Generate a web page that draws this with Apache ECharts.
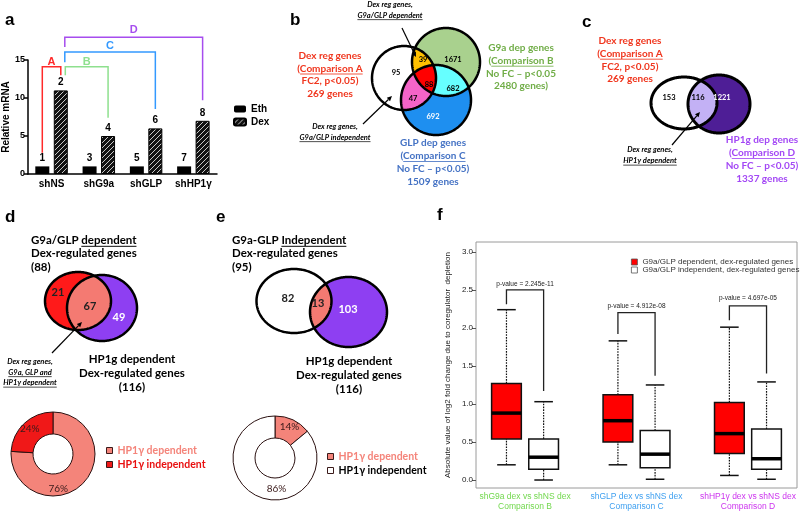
<!DOCTYPE html>
<html><head><meta charset="utf-8">
<script src="https://cdn.jsdelivr.net/npm/echarts@6/dist/echarts.min.js"></script>
<style>html,body{margin:0;padding:0;background:#fff;}#c{width:800px;height:512px;}</style>
</head><body><div id="c"></div>
<script>
// ---------------- data ----------------
const aCategories = ['shNS', 'shG9a', 'shGLP', 'shHP1γ'];
const aEth = [1, 1, 1, 1];
const aDex = [11, 5, 6, 7];
const aEthLabels = ['1', '3', '5', '7'];
const aDexLabels = ['2', '4', '6', '8'];
const aYTicks = [0, 5, 10, 15];
const bRegionCounts = ['95', '39', '1671', '88', '682', '47', '692'];
const cRegionCounts = ['153', '116', '1221'];
const dRegionCounts = ['21', '67', '49'];
const eRegionCounts = ['82', '13', '103'];
const dPieNames = ['HP1γ dependent', 'HP1γ independent'];
const dPieValues = [76, 24];
const ePieNames = ['HP1γ dependent\u200b', 'HP1γ independent\u200b'];
const ePieValues = [14, 86];
const fGroupLine1 = ['shG9a dex vs shNS dex', 'shGLP dex vs shNS dex', 'shHP1γ dex vs shNS dex'];
const fGroupLine2 = ['Comparison B', 'Comparison C', 'Comparison D'];
const fSeriesNames = ['G9a/GLP dependent, dex-regulated genes', 'G9a/GLP independent, dex-regulated genes'];
// [min, Q1, median, Q3, max]
const fDependent = [[0.20, 0.54, 0.88, 1.27, 2.24], [0.20, 0.50, 0.78, 1.12, 1.83], [0.06, 0.35, 0.61, 1.02, 2.01]];
const fIndependent = [[0.00, 0.14, 0.30, 0.54, 1.03], [0.01, 0.16, 0.34, 0.65, 1.25], [0.01, 0.14, 0.28, 0.67, 1.29]];
const fPValues = ['2.245e-11', '4.912e-08', '4.697e-05'];
const fYTicks = [0, 0.5, 1, 1.5, 2, 2.5, 3];

// ---------------- helpers ----------------
const ARIAL = '"Liberation Sans"';
const CAL = 'Lato';
const chart = echarts.init(document.getElementById('c'));

// hatch pattern for Dex bars
const pc = document.createElement('canvas');
pc.width = 5; pc.height = 5;
(function () {
  const g = pc.getContext('2d');
  g.fillStyle = '#111'; g.fillRect(0, 0, 5, 5);
  g.strokeStyle = '#c8c8c8'; g.lineWidth = 1;
  g.beginPath();
  g.moveTo(-1, 6); g.lineTo(6, -1);
  g.moveTo(-1, 1); g.lineTo(1, -1);
  g.moveTo(4, 6); g.lineTo(6, 4);
  g.stroke();
})();

const mctx = document.createElement('canvas').getContext('2d');
function tw(str, font) { mctx.font = font; return mctx.measureText(str).width; }
const G = [];
function T(x, y, str, o) {
  const align = o.align || 'center';
  const font = (o.style || 'normal') + ' ' + (o.weight || 'normal') + ' ' + o.size + 'px ' + (o.family || CAL);
  G.push({ type: 'text', x: x, y: y, z: 30, silent: true,
    style: { text: str, font: font, fill: o.color || '#000', textAlign: align, textVerticalAlign: 'middle', align: align, verticalAlign: 'middle' } });
  if (o.ul) {
    const W = tw(str, font);
    const left = align === 'center' ? x - W / 2 : (align === 'right' ? x - W : x);
    let s = 0, e = str.length;
    if (Array.isArray(o.ul)) { s = o.ul[0]; e = o.ul[1]; }
    const x1 = left + tw(str.slice(0, s), font), x2 = left + tw(str.slice(0, e), font);
    const uy = y + o.size * 0.55;
    G.push({ type: 'line', z: 30, silent: true, shape: { x1: x1, y1: uy, x2: x2, y2: uy },
      style: { stroke: o.color || '#000', lineWidth: Math.max(0.7, o.size / 12) } });
  }
}
function lines(x, y0, dy, arr, o) { arr.forEach((s, i) => T(x, y0 + i * dy, s, Object.assign({}, o, { ul: (o.uls || [])[i] }))); }
function arrow(x1, y1, x2, y2) {
  const ang = Math.atan2(y2 - y1, x2 - x1), L = 5, W = 2.3;
  const bx = x2 - L * Math.cos(ang), by = y2 - L * Math.sin(ang);
  const px = -Math.sin(ang) * W, py = Math.cos(ang) * W;
  G.push({ type: 'line', z: 30, silent: true, shape: { x1: x1, y1: y1, x2: bx, y2: by }, style: { stroke: '#000', lineWidth: 1.2 } });
  G.push({ type: 'polygon', z: 30, silent: true, shape: { points: [[x2, y2], [bx + px, by + py], [bx - px, by - py]] }, style: { fill: '#000' } });
}
function ellPts(e, n) {
  const p = [];
  for (let i = 0; i < n; i++) { const t = 2 * Math.PI * i / n; p.push([e[0] + e[2] * Math.cos(t), e[1] + e[3] * Math.sin(t)]); }
  return p;
}
function inE(p, e) { const dx = (p[0] - e[0]) / e[2], dy = (p[1] - e[1]) / e[3]; return dx * dx + dy * dy <= 1.0005; }
function region(list) {
  let pts = [];
  list.forEach((e, i) => ellPts(e, 720).forEach(p => { if (list.every((o, j) => j === i || inE(p, o))) pts.push(p); }));
  let cx = 0, cy = 0; pts.forEach(p => { cx += p[0]; cy += p[1]; }); cx /= pts.length; cy /= pts.length;
  pts.sort((a, b) => Math.atan2(a[1] - cy, a[0] - cx) - Math.atan2(b[1] - cy, b[0] - cx));
  return pts;
}
let zc = 10;
function fillPoly(points, color) { G.push({ type: 'polygon', z: zc++, silent: true, shape: { points: points }, style: { fill: color } }); }
function outline(e, w) { G.push({ type: 'polygon', z: 25, silent: true, shape: { points: ellPts(e, 240) }, style: { fill: 'none', stroke: '#000', lineWidth: w } }); }

// ---------------- option ----------------
function boxRender(fill) {
  return function (params, api) {
    const x = api.value(0);
    const v = [1, 2, 3, 4, 5].map(k => api.value(k));
    const P = v.map(val => api.coord([x, val]));
    const unit = api.size([1, 0])[0];
    const hw = unit * 0.4, cw = unit * 0.25, cx = P[0][0];
    const dash = { stroke: '#111', lineWidth: 1.2, lineDash: [1.6, 1.2] };
    const solid = { stroke: '#111', lineWidth: 1.5 };
    return { type: 'group', children: [
      { type: 'line', shape: { x1: cx, y1: P[0][1], x2: cx, y2: P[1][1] }, style: dash },
      { type: 'line', shape: { x1: cx, y1: P[3][1], x2: cx, y2: P[4][1] }, style: dash },
      { type: 'line', shape: { x1: cx - cw, y1: P[0][1], x2: cx + cw, y2: P[0][1] }, style: solid },
      { type: 'line', shape: { x1: cx - cw, y1: P[4][1], x2: cx + cw, y2: P[4][1] }, style: solid },
      { type: 'rect', shape: { x: cx - hw, y: P[3][1], width: 2 * hw, height: P[1][1] - P[3][1] }, style: { fill: fill, stroke: '#111', lineWidth: 1.5 } },
      { type: 'line', shape: { x1: cx - hw, y1: P[2][1], x2: cx + hw, y2: P[2][1] }, style: { stroke: '#000', lineWidth: 3.5 } }
    ] };
  };
}
const fRich = {
  g: { color: '#72d84e', fontSize: 8.5, lineHeight: 9.5, fontFamily: ARIAL },
  b: { color: '#3fa0f0', fontSize: 8.5, lineHeight: 9.5, fontFamily: ARIAL },
  m: { color: '#cc33ee', fontSize: 8.5, lineHeight: 9.5, fontFamily: ARIAL }
};
const fKeys = ['g', 'b', 'm'];
const dColors = ['#f4847a', '#f01818'];
const eColors = ['#f4847a', '#ffffff'];
const pieBase = {
  type: 'pie', startAngle: 90, clockwise: true, radius: [20, 42], silent: true, emphasis: { disabled: true },
  itemStyle: { borderColor: '#2a1010', borderWidth: 1 }, labelLine: { show: false },
  label: { show: true, position: 'inside', formatter: '{c}%', fontSize: 10, fontFamily: CAL, color: '#3a1a1a' }
};
const legendPie = { orient: 'vertical', icon: 'rect', itemWidth: 6, itemHeight: 6, itemGap: 3, selectedMode: false,
  itemStyle: { borderColor: '#3a1a1a', borderWidth: 1 }, textStyle: { fontSize: 10.5, fontFamily: CAL, fontWeight: 'bold' } };

const option = {
  animation: false,
  textStyle: { fontFamily: ARIAL },
  grid: [
    { left: 24, top: 60, width: 193, height: 114 },
    { left: 476, top: 242, width: 321, height: 246, show: true, borderColor: '#9a9a9a', borderWidth: 1 }
  ],
  xAxis: [
    { gridIndex: 0, type: 'category', data: aCategories,
      axisLine: { lineStyle: { color: '#000', width: 1.5 } }, axisTick: { show: false },
      axisLabel: { interval: 0, color: '#000', fontWeight: 'bold', fontSize: 10, margin: 5 } },
    { gridIndex: 1, type: 'value', min: 0.18, max: 8.82, axisLine: { show: false }, axisTick: { show: false }, splitLine: { show: false },
      axisLabel: { customValues: [1.5, 4.5, 7.5], margin: 4, rich: fRich,
        formatter: v => { const i = Math.round((v - 1.5) / 3); const k = fKeys[i]; return '{' + k + '|' + fGroupLine1[i] + '}\n{' + k + '|' + fGroupLine2[i] + '}'; } } }
  ],
  yAxis: [
    { gridIndex: 0, type: 'value', min: 0, max: 15, interval: 5, splitLine: { show: false },
      axisLine: { show: true, lineStyle: { color: '#000', width: 1.5 } },
      axisTick: { show: true, length: 4, lineStyle: { color: '#000', width: 1.5 } },
      axisLabel: { color: '#000', fontWeight: 'bold', fontSize: 9, margin: 3 },
      name: 'Relative mRNA', nameLocation: 'middle', nameGap: 14,
      nameTextStyle: { fontWeight: 'bold', fontSize: 10, color: '#000' } },
    { gridIndex: 1, type: 'value', min: -0.105, max: 3.13, splitLine: { show: false }, axisLine: { show: false },
      axisTick: { show: true, customValues: fYTicks, length: 4, lineStyle: { color: '#555' } },
      axisLabel: { customValues: fYTicks, formatter: v => v.toFixed(1), fontSize: 8, color: '#222', margin: 3 },
      name: 'Absolute value of log2 fold change due to coregulator  depletion', nameLocation: 'middle', nameGap: 24,
      nameTextStyle: { fontSize: 8, color: '#222' } }
  ],
  legend: [
    { id: 'la', data: ['Eth', 'Dex'], left: 228, top: 99, orient: 'vertical', itemWidth: 12, itemHeight: 7, itemGap: 3,
      selectedMode: false, textStyle: { fontWeight: 'bold', fontSize: 10, color: '#000', fontFamily: ARIAL } },
    Object.assign({ id: 'ld', left: 101, top: 440,
      data: [{ name: dPieNames[0], textStyle: { color: dColors[0] } }, { name: dPieNames[1], textStyle: { color: '#e81010' } }] }, legendPie),
    Object.assign({ id: 'le', left: 322, top: 446,
      data: [{ name: ePieNames[0], textStyle: { color: eColors[0] } }, { name: ePieNames[1], textStyle: { color: '#000' } }] }, legendPie),
    { id: 'lf', data: fSeriesNames, left: 626, top: 253, orient: 'vertical', icon: 'rect', itemWidth: 6, itemHeight: 6, itemGap: 0,
      selectedMode: false, itemStyle: { borderColor: '#555', borderWidth: 0.8 },
      textStyle: { fontSize: 8, color: '#333', lineHeight: 8, fontFamily: ARIAL } }
  ],
  series: [
    { type: 'bar', name: 'Eth', xAxisIndex: 0, yAxisIndex: 0, data: aEth, barWidth: 14, barGap: '32%',
      itemStyle: { color: '#000' },
      label: { show: true, position: 'top', distance: 3, formatter: p => aEthLabels[p.dataIndex], fontWeight: 'bold', fontSize: 10, color: '#000' } },
    { type: 'bar', name: 'Dex', xAxisIndex: 0, yAxisIndex: 0, data: aDex, barWidth: 14,
      itemStyle: { color: { image: pc, repeat: 'repeat' }, borderColor: '#000', borderWidth: 1 },
      label: { show: true, position: 'top', distance: 3, formatter: p => aDexLabels[p.dataIndex], fontWeight: 'bold', fontSize: 10, color: '#000' } },
    Object.assign({}, pieBase, { name: 'pd', center: [53, 454],
      labelLayout: p => (p.dataIndex === 0 ? { dx: -9, dy: 5 } : { dx: 0, dy: 0 }),
      data: dPieNames.map((n, i) => ({ name: n, value: dPieValues[i], itemStyle: { color: dColors[i] } })) }),
    Object.assign({}, pieBase, { name: 'pe', center: [275, 458],
      labelLayout: p => (p.dataIndex === 1 ? { dx: 8, dy: 0 } : { dx: 0, dy: 0 }),
      data: ePieNames.map((n, i) => ({ name: n, value: ePieValues[i], itemStyle: { color: eColors[i] } })) }),
    { type: 'custom', name: fSeriesNames[0], xAxisIndex: 1, yAxisIndex: 1, renderItem: boxRender('#ff0000'),
      itemStyle: { color: '#ff0000' }, encode: { x: 0, y: [1, 2, 3, 4, 5] },
      data: fDependent.map((b, i) => [3 * i + 1].concat(b)) },
    { type: 'custom', name: fSeriesNames[1], xAxisIndex: 1, yAxisIndex: 1, renderItem: boxRender('#ffffff'),
      itemStyle: { color: '#ffffff' }, encode: { x: 0, y: [1, 2, 3, 4, 5] },
      data: fIndependent.map((b, i) => [3 * i + 2].concat(b)) }
  ]
};
chart.setOption(option);

// ---------------- panel letters ----------------
[['a', 5, 20], ['b', 290, 20], ['c', 582, 22], ['d', 5, 217], ['e', 216, 217], ['f', 437, 215]].forEach(l =>
  T(l[1], l[2], l[0], { size: 17, weight: 'bold', family: ARIAL, align: 'left' }));

// ---------------- panel a brackets ----------------
const toA = (c, v) => chart.convertToPixel({ xAxisIndex: 0, yAxisIndex: 0 }, [c, v]);
const bo = 9.25;
const ethX = c => toA(c, 0)[0] - bo, dexX = c => toA(c, 0)[0] + bo, yA = v => toA(0, v)[1];
function bracket(pts, color, letter, ly) {
  const p = pts.map(q => [q[0], yA(q[1])]);
  G.push({ type: 'polyline', z: 30, silent: true, shape: { points: p }, style: { stroke: color, lineWidth: 1.5, fill: 'none' } });
  T((p[1][0] + p[2][0]) / 2, yA(ly), letter, { size: 11, weight: 'bold', family: ARIAL, color: color });
}
bracket([[ethX(0), 2.8], [ethX(0), 14.1], [dexX(0), 14.1], [dexX(0), 13.0]], '#ff2a2a', 'A', 14.8);
bracket([[dexX(0) + 4.5, 13.0], [dexX(0) + 4.5, 14.1], [dexX(1), 14.1], [dexX(1), 7.4]], '#8ee08e', 'B', 14.8);
bracket([[dexX(0) + 4, 14.7], [dexX(0) + 4, 16.05], [dexX(2), 16.05], [dexX(2), 8.55]], '#3399ff', 'C', 16.9);
bracket([[dexX(0) + 4, 16.7], [dexX(0) + 4, 18.0], [dexX(3), 18.0], [dexX(3), 9.7]], '#a64dee', 'D', 19.0);

// ---------------- panel b venn ----------------
const bA = [404, 78, 32, 32], bB = [446, 62, 34, 34], bC = [436, 100, 35, 35];
fillPoly(ellPts(bA, 240), '#ffffff');
fillPoly(ellPts(bB, 240), '#a9d18e');
fillPoly(ellPts(bC, 240), '#1e8ff0');
fillPoly(region([bB, bC]), '#66ffff');
fillPoly(region([bA, bB]), '#ffc000');
fillPoly(region([bA, bC]), '#f464c8');
fillPoly(region([bA, bB, bC]), '#ff0000');
[bA, bB, bC].forEach(e => outline(e, 2.5));
const bPos = [[396, 73], [423, 60], [453, 60], [429, 85], [453, 89], [413, 99], [433, 117]];
bRegionCounts.forEach((s, i) => T(bPos[i][0], bPos[i][1], s, { size: 7.5, weight: 'bold', color: i === 6 ? '#fff' : '#000' }));
lines(330, 56, 12.5, ['Dex reg genes', '(Comparison A', 'FC2, p<0.05)', '269 genes'], { size: 10, weight: 'bold', color: '#f0361e', uls: [null, [1, 13]] });
lines(521, 48, 12.7, ['G9a dep genes', '(Comparison B', 'No FC – p<0.05', '2480 genes)'], { size: 10, weight: 'bold', color: '#70ad47', uls: [null, [1, 13]] });
lines(433, 143, 13, ['GLP dep genes', '(Comparison C', 'No FC – p<0.05)', '1509 genes'], { size: 10, weight: 'bold', color: '#4472c4', uls: [null, [1, 13]] });
lines(390, 5, 10.5, ['Dex reg genes,', 'G9a/GLP dependent'], { size: 7.5, weight: 'bold', style: 'italic', uls: [null, true] });
arrow(402, 28, 416, 57);
lines(335, 127, 10.5, ['Dex reg genes,', 'G9a/GLP independent'], { size: 7.5, weight: 'bold', style: 'italic', uls: [null, true] });
arrow(363, 124, 392, 96);

// ---------------- panel c venn ----------------
const cA = [684, 103, 33, 26], cD = [719, 104, 31, 29];
fillPoly(ellPts(cA, 240), '#ffffff');
fillPoly(ellPts(cD, 240), '#4e1e96');
fillPoly(region([cA, cD]), '#c3b1f5');
[cA, cD].forEach(e => outline(e, 3));
const cPos = [[669, 98], [698, 98], [722, 98]];
cRegionCounts.forEach((s, i) => T(cPos[i][0], cPos[i][1], s, { size: 7.5, weight: 'bold', color: i === 2 ? '#fff' : '#000' }));
lines(630, 41, 12.7, ['Dex reg genes', '(Comparison A', 'FC2, p<0.05)', '269 genes'], { size: 10, weight: 'bold', color: '#f0361e', uls: [null, [1, 13]] });
lines(762, 140, 13, ['HP1g dep genes', '(Comparison D', 'No FC – p<0.05)', '1337 genes'], { size: 10, weight: 'bold', color: '#a347f5', uls: [null, [1, 13]] });
lines(650, 150, 11, ['Dex reg genes,', 'HP1γ dependent'], { size: 7.5, weight: 'bold', style: 'italic', uls: [null, true] });
arrow(672, 145, 700, 112);

// ---------------- panel d venn ----------------
const dR = [78, 301, 33, 29], dP = [102, 308, 35, 33];
fillPoly(ellPts(dR, 240), '#ff1a1a');
fillPoly(ellPts(dP, 240), '#8e3ff2');
fillPoly(region([dR, dP]), '#f47a72');
[dR, dP].forEach(e => outline(e, 2.5));
const dPos = [[58, 292], [90, 306], [119, 317]];
dRegionCounts.forEach((s, i) => T(dPos[i][0], dPos[i][1], s, { size: 11, weight: 'bold', color: i === 2 ? '#fff' : '#222' }));
lines(31, 240, 13.5, ['G9a/GLP dependent', 'Dex-regulated genes', '(88)'], { size: 11.5, weight: 'bold', align: 'left', uls: [[8, 17]] });
lines(132, 359, 14, ['HP1g dependent', 'Dex-regulated genes', '(116)'], { size: 11.5, weight: 'bold' });
lines(30, 362, 10.5, ['Dex reg genes,', 'G9a, GLP and', 'HP1γ dependent'], { size: 7.5, weight: 'bold', style: 'italic', uls: [null, true, true] });
arrow(52, 353, 82, 322);

// ---------------- panel e venn ----------------
const eW = [294, 301, 37.5, 32], eP = [348.5, 312, 38.5, 35];
fillPoly(ellPts(eW, 240), '#ffffff');
fillPoly(ellPts(eP, 240), '#8e3ff2');
fillPoly(region([eW, eP]), '#f47a72');
[eW, eP].forEach(e => outline(e, 2.5));
const ePos = [[288, 298], [318, 303], [348, 309]];
eRegionCounts.forEach((s, i) => T(ePos[i][0], ePos[i][1], s, { size: 11, weight: 'bold', color: i === 2 ? '#fff' : '#222' }));
lines(232, 240, 13.5, ['G9a-GLP Independent', 'Dex-regulated genes', '(95)'], { size: 11.5, weight: 'bold', align: 'left', uls: [[8, 19]] });
lines(349, 361, 14, ['HP1g dependent', 'Dex-regulated genes', '(116)'], { size: 11.5, weight: 'bold' });

// ---------------- panel f p-value brackets ----------------
const toF = (x, v) => chart.convertToPixel({ xAxisIndex: 1, yAxisIndex: 1 }, [x, v]);
const fLift = [[0.07, 0.26, 0.14, 0.33], [0.09, 0.37, 0.12, 0.46], [0.09, 0.28, 0.11, 0.38]];
fPValues.forEach((pv, i) => {
  const xl = 3 * i + 1, xr = 3 * i + 2, top = fDependent[i][4] + fLift[i][1];
  const pts = [toF(xl, fDependent[i][4] + fLift[i][0]), toF(xl, top), toF(xr, top), toF(xr, fIndependent[i][4] + fLift[i][2])];
  G.push({ type: 'polyline', z: 30, silent: true, shape: { points: pts }, style: { stroke: '#222', lineWidth: 1.3, fill: 'none' } });
  const tp = toF(xl + 0.5, fDependent[i][4] + fLift[i][3]);
  T(tp[0], tp[1], 'p-value = ' + pv, { size: 6.5, family: ARIAL, color: '#222' });
});

chart.setOption({ graphic: { elements: G } });
</script></body></html>
